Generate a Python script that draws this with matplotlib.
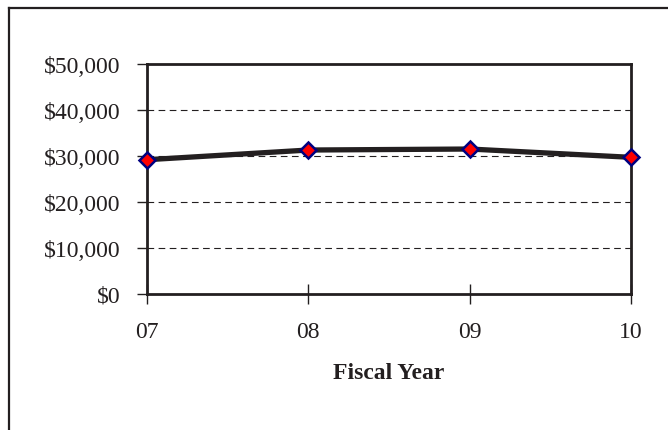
import matplotlib.pyplot as plt
from matplotlib.lines import Line2D
from matplotlib.ticker import FuncFormatter

# fiscal-year totals
years = ["07", "08", "09", "10"]
amounts = [29150, 31260, 31480, 29670]
y_ticks = [0, 10000, 20000, 30000, 40000, 50000]

plt.rcParams["font.family"] = ["Liberation Serif", "DejaVu Serif"]

fig = plt.figure(figsize=(6.68, 4.31), dpi=100)
ax = fig.add_axes([0.2201, 0.3166, 0.7245, 0.5326])

x = range(len(years))
ax.plot(x, amounts, color="#231f20", linewidth=3.8, zorder=3,
        marker="D", markersize=8.5, markerfacecolor="#ff0000",
        markeredgecolor="#000080", markeredgewidth=1.8, clip_on=False)

ax.set_xlim(0, len(years) - 1)
ax.set_ylim(0, 50000)
ax.set_xticks(list(x))
ax.set_xticklabels(years)
ax.set_yticks(y_ticks)
ax.yaxis.set_major_formatter(FuncFormatter(lambda v, _: f"${v:,.0f}"))

# dashed gridlines between the bottom and top of the value axis
for v in y_ticks[1:-1]:
    ax.axhline(v, color="#231f20", linewidth=0.8, linestyle=(0, (6, 4)), zorder=1)

for s in ax.spines.values():
    s.set_linewidth(2.0)
    s.set_color("#231f20")

ax.tick_params(axis="y", direction="out", length=7, width=1.0, pad=12,
               labelsize=17, colors="#231f20")
ax.tick_params(axis="x", direction="inout", length=14, width=1.0, pad=13,
               labelsize=17, colors="#231f20")

ax.set_xlabel("Fiscal Year", fontsize=17, fontweight="bold", labelpad=14,
              color="#231f20")

# outer chart frame (left and top edges)
fig.add_artist(Line2D([0.0142, 0.0142], [0.0, 0.979], transform=fig.transFigure,
                      color="#231f20", linewidth=1.6))
fig.add_artist(Line2D([0.0142, 1.0], [0.979, 0.979], transform=fig.transFigure,
                      color="#231f20", linewidth=1.6))

fig.savefig("out.png", dpi=100)
